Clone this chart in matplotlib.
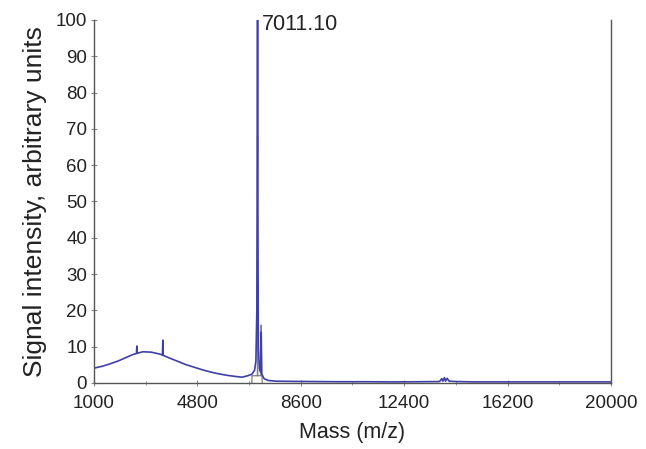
import numpy as np
import matplotlib
matplotlib.use('Agg')
import matplotlib.pyplot as plt
from matplotlib.ticker import FixedLocator

plt.rcParams['font.family'] = ['Liberation Sans', 'DejaVu Sans']

#main spectrum trace (blue)
blue_mz = [1000, 1300, 1600, 1900, 2200, 2450, 2560, 2575, 2590, 2800, 3100,
           3400, 3515, 3530, 3545, 3800, 4100, 4400, 4700, 5000, 5300, 5600,
           5900, 6200, 6450, 6650, 6800, 6900, 6950, 6985, 7000, 7011, 7022,
           7040, 7080, 7125, 7145, 7165, 7250, 7400, 7700, 8200, 9000, 10000,
           11000, 12000, 13000, 13700, 13780, 13820, 13880, 13920, 13980,
           14050, 14300, 15000, 16000, 17000, 18000, 19000, 20000]
blue_int = [4.1, 4.6, 5.3, 6.1, 7.1, 7.9, 8.1, 10.2, 8.2, 8.6, 8.5,
            8.0, 7.7, 11.8, 7.6, 6.8, 5.9, 5.0, 4.3, 3.6, 3.0, 2.5,
            2.1, 1.8, 1.6, 2.0, 2.4, 3.5, 6.0, 20.0, 60.0, 100.0, 45.0,
            10.0, 4.0, 3.0, 14.0, 2.5, 1.2, 0.7, 0.5, 0.45, 0.4, 0.35,
            0.35, 0.3, 0.35, 0.4, 1.2, 0.5, 1.5, 0.5, 1.3, 0.5, 0.4, 0.3,
            0.3, 0.3, 0.3, 0.3, 0.3]

#second trace (gray) around the main peak
gray_mz = [6800, 6810, 6995, 7005, 7011, 7018, 7030, 7130, 7145, 7160, 7175, 7185]
gray_int = [0.0, 2.0, 2.0, 2.0, 68.0, 2.0, 2.0, 2.0, 16.0, 2.0, 2.0, 0.0]

x_ticks = [1000, 4800, 8600, 12400, 16200, 20000]
x_minor = [2900, 6700, 10500, 14300, 18100]
y_ticks = [0, 10, 20, 30, 40, 50, 60, 70, 80, 90, 100]

peak_label = '7011.10'
peak_mz = 7011

fig = plt.figure(figsize=(6.46, 4.49), dpi=100)
ax = fig.add_axes([0.1455, 0.147, 0.8003, 0.8085])

ax.plot(gray_mz, gray_int, color='#808080', lw=0.9)
ax.plot(blue_mz, blue_int, color='#3f3fa8', lw=1.2)

ax.text(peak_mz + 150, 98.8, peak_label, fontsize=15.5, color='#222222',
        ha='left', va='center', clip_on=False)

ax.set_xlim(1000, 20000)
ax.set_ylim(0, 100)
ax.xaxis.set_major_locator(FixedLocator(x_ticks))
ax.xaxis.set_minor_locator(FixedLocator(x_minor))
ax.yaxis.set_major_locator(FixedLocator(y_ticks))

ax.spines['top'].set_visible(False)
for s in ['left', 'bottom', 'right']:
    ax.spines[s].set_color('#555555')
    ax.spines[s].set_linewidth(1.0)

ax.tick_params(axis='both', which='both', direction='inout', color='#888888',
               labelsize=13.5, labelcolor='#222222')
ax.tick_params(which='major', length=4)
ax.tick_params(which='minor', length=3)
ax.tick_params(axis='x', pad=7)
ax.tick_params(axis='y', pad=3)

ax.set_xlabel('Mass (m/z)', fontsize=15.5, color='#222222', labelpad=7)
ax.set_ylabel('Signal intensity, arbitrary units', fontsize=19, color='#222222', labelpad=6)

fig.savefig('out.png', dpi=100)
